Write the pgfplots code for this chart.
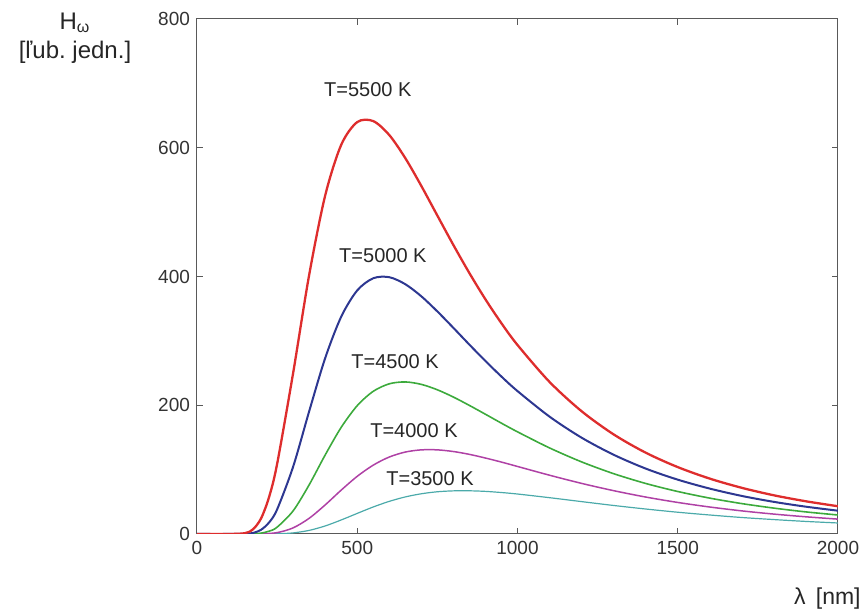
\documentclass[border=0pt]{standalone}
\usepackage{fontspec}
\setmainfont{Liberation Sans}
\usepackage{pgfplots}
\pgfplotsset{compat=1.18}
\definecolor{cRed}{RGB}{222,45,45}
\definecolor{cBlue}{RGB}{45,55,145}
\definecolor{cGreen}{RGB}{60,170,60}
\definecolor{cPurple}{RGB}{175,65,165}
\definecolor{cCyan}{RGB}{75,170,170}
\begin{document}
\begin{tikzpicture}
\useasboundingbox (-98.5pt,-37.5pt) rectangle (333pt,267pt);
\begin{axis}[
  at={(0,0)}, anchor=south west,
  width=320.5pt, height=257.5pt, scale only axis,
  xmin=0, xmax=2000, ymin=0, ymax=800,
  xtick={0,500,1000,1500,2000},
  ytick={0,200,400,600,800},
  tick align=inside, major tick length=3pt,
  axis line style={black!65, line width=0.5pt},
  tick style={black!65, line width=0.5pt},
  /pgf/number format/assume math mode=true,
  /pgf/number format/1000 sep={},
  ticklabel style={font=\fontsize{9.5}{11}\selectfont, text=black!80},
  scaled ticks=false,
  clip mode=individual,
]
\addplot[cCyan, line width=0.6pt, smooth] coordinates {
(0,0) (150,0) (200,0.01) (250,0.28) (300,1.7) (350,5.6) (400,12.5) (450,21.8) (500,32.0) (550,42.0) (600,50.7) (650,57.6) (700,62.5) (750,65.6) (800,67.0) (850,67.1) (900,66.2) (950,64.4) (1000,62.1) (1100,56.4) (1200,50.3) (1300,44.3) (1400,38.8) (1500,33.8) (1600,29.5) (1700,25.6) (1800,22.4) (1900,19.5) (2000,17.1)};
\addplot[cPurple, line width=0.75pt, smooth] coordinates {
(0,0) (150,0) (200,0.18) (250,2.15) (300,9.5) (350,24.4) (400,45.2) (450,68.2) (500,89.6) (550,107.0) (600,119.6) (650,127.3) (700,130.7) (750,130.7) (800,128.1) (850,123.7) (900,118.0) (950,111.7) (1000,104.9) (1100,91.3) (1200,78.6) (1300,67.3) (1400,57.4) (1500,49.0) (1600,41.9) (1700,35.9) (1800,30.9) (1900,26.7) (2000,23.1)};
\addplot[cGreen, line width=0.8pt, smooth] coordinates {
(0,0) (100,0) (150,0.03) (175,0.26) (200,1.33) (225,4.35) (250,10.6) (300,36.0) (350,76.4) (400,122.8) (450,165.7) (500,199.4) (550,221.7) (600,233.3) (650,236.2) (700,232.4) (750,224.0) (800,212.7) (850,199.7) (900,186.0) (950,172.1) (1000,158.7) (1100,133.7) (1200,112.0) (1300,93.7) (1400,78.5) (1500,66.0) (1600,55.7) (1700,47.2) (1800,40.2) (1900,34.3) (2000,29.5)};
\addplot[cBlue, line width=1pt, smooth] coordinates {
(0,0) (100,0) (150,0.23) (175,1.64) (200,6.56) (225,18.0) (250,38.2) (300,104.6) (350,190.6) (400,273.3) (450,337.6) (500,378.4) (550,397.3) (600,398.9) (650,388.0) (700,369.2) (750,345.7) (800,320.2) (850,294.1) (900,268.7) (950,244.5) (1000,222.0) (1100,182.3) (1200,149.6) (1300,123.1) (1400,101.6) (1500,84.4) (1600,70.5) (1700,59.1) (1800,49.9) (1900,42.4) (2000,36.2)};
\addplot[cRed, line width=1.15pt, smooth] coordinates {
(0,0) (100,0) (150,1.3) (175,7.3) (200,24.3) (225,57.6) (250,108.8) (300,250.2) (350,402.5) (400,525.9) (450,604.6) (500,639.9) (550,641.4) (600,619.7) (650,583.8) (700,540.6) (750,494.6) (800,448.9) (850,405.2) (900,364.5) (950,327.3) (1000,293.6) (1100,236.2) (1200,190.7) (1300,154.7) (1400,126.3) (1500,103.9) (1600,86.0) (1700,71.7) (1800,60.1) (1900,50.8) (2000,43.1)};
\begin{scope}[every node/.style={font=\fontsize{10}{12}\selectfont, text=black!85}]
\node at (axis cs:533,691) {T=5500 K};
\node at (axis cs:580,432) {T=5000 K};
\node at (axis cs:618,268) {T=4500 K};
\node at (axis cs:677,160) {T=4000 K};
\node at (axis cs:727,86) {T=3500 K};
\end{scope}
\end{axis}
\node[font=\fontsize{12}{14}\selectfont, text=black!85] at ([xshift=-61pt,yshift=-2pt]current axis.north west) {H\textsubscript{ω}};
\node[font=\fontsize{12}{14}\selectfont, text=black!85] at ([xshift=-61pt,yshift=-16.5pt]current axis.north west) {[ľub.\ jedn.]};
\node[font=\fontsize{11.5}{13}\selectfont, text=black!85, anchor=east, inner sep=0pt] at ([xshift=11.5pt,yshift=-32.5pt]current axis.south east) {λ\ \,[nm]};
\end{tikzpicture}
\end{document}
